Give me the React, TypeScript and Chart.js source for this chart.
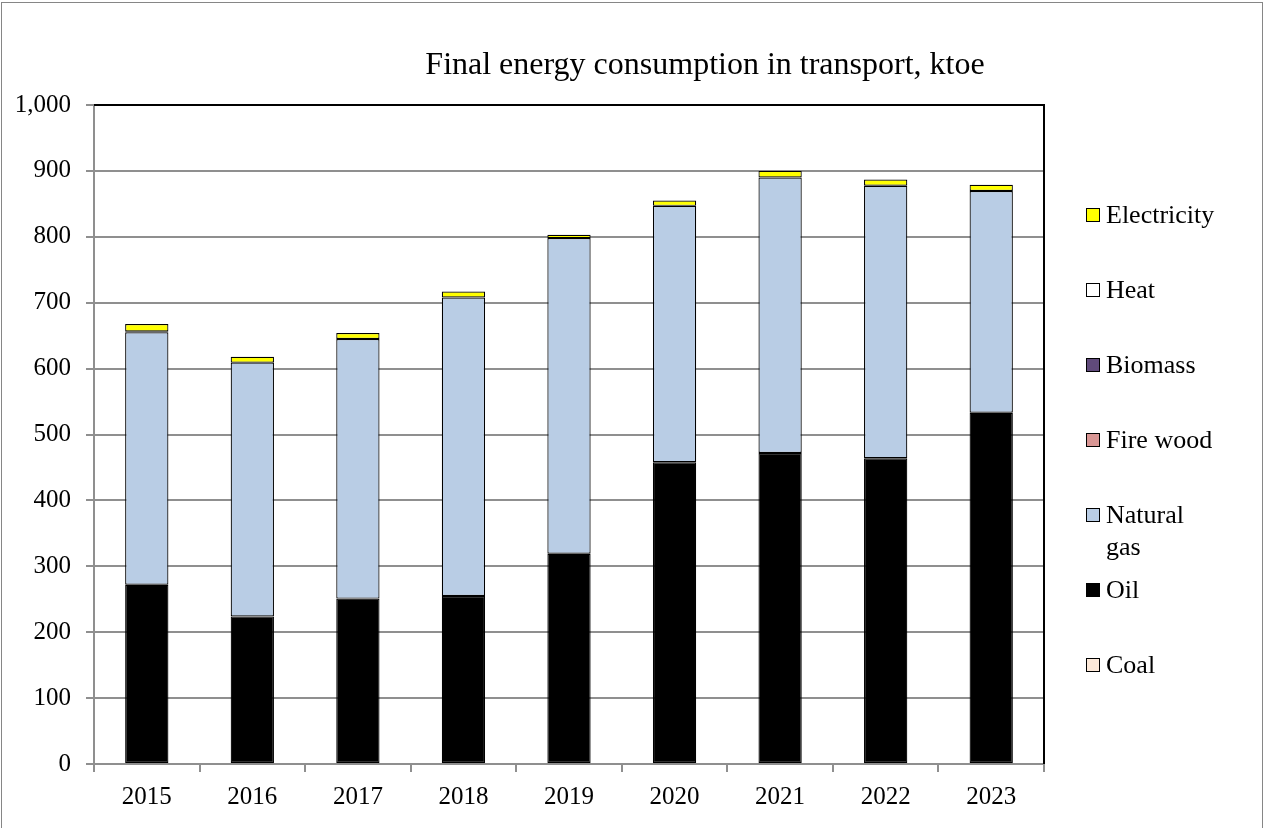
import React, { useEffect, useRef } from "react";
import { Chart, registerables } from "chart.js";

Chart.register(...registerables);

const categories = ["2015", "2016", "2017", "2018", "2019", "2020", "2021", "2022", "2023"];
const coal = [0, 0, 0, 0, 0, 0, 0, 0, 0];
const oil = [272, 224, 251, 255, 319, 458, 472, 464, 533];
const naturalGas = [383, 385, 394, 453, 479, 389, 418, 413.5, 336.5];
const fireWood = [0, 0, 0, 0, 0, 0, 0, 0, 0];
const biomass = [1.5, 0, 0, 0, 0, 0, 0, 0, 0];
const heat = [0, 0, 0, 0, 0, 0, 0, 0, 0];
const electricity = [11, 9, 9, 9, 5, 8, 10, 9.5, 9.5];
const yTicks = [0, 100, 200, 300, 400, 500, 600, 700, 800, 900, 1000];

const titleText = "Final energy consumption in transport, ktoe";
const FONT = "'Liberation Serif', 'Times New Roman', serif";

const seriesDefs = [
  { label: "Coal", data: coal, color: "#fde9d9" },
  { label: "Oil", data: oil, color: "#000000" },
  { label: "Natural gas", data: naturalGas, color: "#b9cde5" },
  { label: "Fire wood", data: fireWood, color: "#d99694" },
  { label: "Biomass", data: biomass, color: "#604a7b" },
  { label: "Heat", data: heat, color: "#ffffff" },
  { label: "Electricity", data: electricity, color: "#ffff00" },
];

const frameBorder = {
  id: "frameBorder",
  afterDraw(chart: any) {
    const { ctx, chartArea } = chart;
    ctx.save();
    ctx.strokeStyle = "#000";
    ctx.lineWidth = 2;
    ctx.beginPath();
    ctx.moveTo(chartArea.left, chartArea.top);
    ctx.lineTo(chartArea.right, chartArea.top);
    ctx.lineTo(chartArea.right, chartArea.bottom);
    ctx.stroke();
    ctx.restore();
  },
};

export default function App() {
  const ref = useRef<HTMLCanvasElement | null>(null);

  useEffect(() => {
    document.body.style.margin = "0";
    const canvas = ref.current;
    if (!canvas) return;
    const chart = new Chart(canvas, {
      type: "bar",
      data: {
        labels: categories,
        datasets: seriesDefs.map((s) => ({
          label: s.label,
          data: s.data,
          backgroundColor: s.color,
          borderColor: "#000",
          borderWidth: 1.2,
          borderSkipped: false,
          barPercentage: 0.41,
          categoryPercentage: 1,
        })),
      },
      options: {
        responsive: false,
        animation: false,
        devicePixelRatio: 1,
        layout: { padding: { top: 105, right: 223, bottom: 0, left: 0 } },
        plugins: {
          legend: { display: false },
          title: { display: false },
          tooltip: { enabled: false },
        },
        scales: {
          x: {
            stacked: true,
            grid: {
              offset: true,
              drawOnChartArea: false,
              drawTicks: true,
              tickLength: 8,
              color: "#8f8f8f",
              lineWidth: 2,
            },
            border: { display: true, color: "#8f8f8f", width: 2 },
            ticks: {
              color: "#000",
              font: { family: FONT, size: 25 },
              padding: 10,
              maxRotation: 0,
            },
            afterFit(scale: any) {
              scale.height = 828 - 764;
            },
          },
          y: {
            stacked: true,
            min: 0,
            max: 1000,
            afterBuildTicks(scale: any) {
              scale.ticks = yTicks.map((v) => ({ value: v }));
            },
            grid: {
              color: (ctx: any) => (ctx.tick && ctx.tick.value === 1000 ? "#000" : "#8f8f8f"),
              lineWidth: 2,
              drawTicks: true,
              tickLength: 8,
              tickColor: "#8f8f8f",
            },
            border: { display: true, color: "#8f8f8f", width: 2 },
            ticks: {
              color: "#000",
              font: { family: FONT, size: 25 },
              padding: 15,
              callback: (v: any) => Number(v).toLocaleString("en-US"),
            },
            afterFit(scale: any) {
              scale.width = 94;
            },
          },
        },
      },
      plugins: [frameBorder],
    });
    return () => chart.destroy();
  }, []);

  const legendItems = [...seriesDefs].reverse();

  return (
    <div style={{ position: "fixed", left: 0, top: 0, width: 1267, height: 828, background: "#fff", overflow: "hidden" }}>
      <div
        style={{
          position: "absolute",
          left: 1,
          top: 2,
          width: 1262,
          height: 840,
          border: "1px solid #868686",
          boxSizing: "border-box",
        }}
      />
      <canvas ref={ref} width={1267} height={828} style={{ position: "absolute", left: 0, top: 0 }} />
      <div
        style={{
          position: "absolute",
          left: 405,
          width: 600,
          top: 43,
          textAlign: "center",
          fontFamily: FONT,
          fontSize: 32,
          lineHeight: "40px",
          color: "#000",
          whiteSpace: "nowrap",
        }}
      >
        {titleText}
      </div>
      {legendItems.map((s, i) => (
        <div
          key={s.label}
          style={{
            position: "absolute",
            left: 1086,
            top: 215 + i * 75 - 16,
            display: "flex",
            alignItems: "flex-start",
            fontFamily: FONT,
            fontSize: 26,
            lineHeight: "32px",
            color: "#000",
          }}
        >
          <div
            style={{
              width: 14,
              height: 14,
              marginTop: 9,
              background: s.color,
              border: "1.5px solid #000",
              boxSizing: "border-box",
              flex: "0 0 auto",
            }}
          />
          <div style={{ marginLeft: 6, width: 114 }}>{s.label}</div>
        </div>
      ))}
    </div>
  );
}
